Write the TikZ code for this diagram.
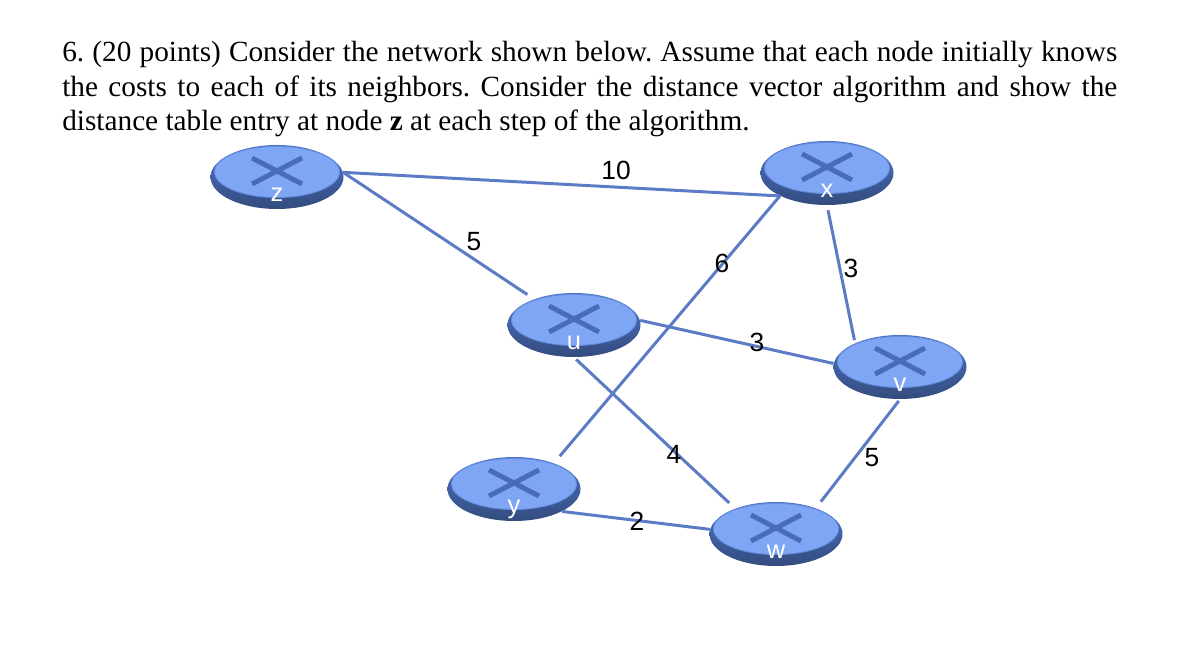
\documentclass[tikz,border=0pt]{standalone}
\usepackage{fontspec}
\setmainfont{Liberation Serif}
\newfontfamily\labelfont{Liberation Sans}
\usepackage{xcolor}
\definecolor{link_blue}{RGB}{91,124,196}
\definecolor{top_blue}{RGB}{127,166,245}
\definecolor{rim_blue}{RGB}{76,116,198}
\definecolor{dark_blue}{RGB}{52,76,126}
\definecolor{cross_blue}{RGB}{74,108,184}
\usetikzlibrary{shapes.geometric}
\tikzset{
  routerbody/.style={ellipse, minimum width=2.66cm, minimum height=1.28cm, inner sep=0pt, top color=rim_blue, bottom color=dark_blue},
  routertop/.style={ellipse, minimum width=2.50cm, minimum height=1.02cm, inner sep=0pt, fill=top_blue, draw=rim_blue!50!top_blue, line width=0.5pt},
  routercross/.style={draw=cross_blue, line width=2.8pt},
  routername/.style={anchor=base, text=white, font=\labelfont\fontsize{14.5}{15}\selectfont, inner sep=0pt},
  link/.style={draw=link_blue, line width=1.7pt},
  cost/.style={font=\labelfont\fontsize{15}{16}\selectfont, inner sep=0pt},
  question/.style={anchor=base west, inner sep=0pt, font=\fontsize{16.65}{19}\selectfont\frenchspacing},
}
\newcommand{\routernode}[4]{
  \node[routerbody] (#1) at (#2, #3) {};
  \node[routertop] (#1_top) at (#2, #3 + 0.1) {};
  \draw[routercross] (#2 - 0.5, #3 + 0.38) -- (#2 + 0.5, #3 - 0.14);
  \draw[routercross] (#2 - 0.5, #3 - 0.14) -- (#2 + 0.5, #3 + 0.38);
  \node[routername] (#1_name) at (#2, #3 - 0.49) {#4};
}
\begin{document}
\begin{tikzpicture}
\useasboundingbox (0, 0) rectangle (23.74, 13.26);

\node[question] (line_one) at (1.24, 12.02) {\makebox[21.1cm][s]{6. (20 points) Consider the network shown below. Assume that each node initially knows}};
\node[question] (line_two) at (1.24, 11.32) {\makebox[21.1cm][s]{the costs to each of its neighbors. Consider the distance vector algorithm and show the}};
\node[question] (line_three) at (1.24, 10.64) {distance table entry at node \textbf{z} at each step of the algorithm.};

\routernode{z}{5.54}{9.72}{z}
\routernode{x}{16.54}{9.80}{x}
\routernode{u}{11.48}{6.76}{u}
\routernode{v}{18.00}{5.92}{v}
\routernode{y}{10.28}{3.48}{y}
\routernode{w}{15.52}{2.58}{w}

\draw [link] (z.4) -- (x.206);
\draw [link, shorten >=0.16cm] (z.4) -- (u.147);
\draw [link] (u.4) -- (v.177);
\draw [link, shorten <=0.06cm, shorten >=0.16cm] (u.south) -- (w.148);
\draw [link, shorten <=0.18cm] (y.33) -- (x.206);
\draw [link] (y.335) -- (w.176);
\draw [link, shorten <=0.1cm, shorten >=0.06cm] (x.south) -- (v.152);
\draw [link, shorten <=0.04cm, shorten >=0.16cm] (v.south) -- (w.33);

\node[cost] (cost_zx) at (12.32, 9.86) {10};
\node[cost] (cost_zu) at (9.48, 8.42) {5};
\node[cost] (cost_xy) at (14.44, 8.00) {6};
\node[cost] (cost_xv) at (17.02, 7.90) {3};
\node[cost] (cost_uv) at (15.14, 6.42) {3};
\node[cost] (cost_uw) at (13.48, 4.18) {4};
\node[cost] (cost_vw) at (17.44, 4.10) {5};
\node[cost] (cost_yw) at (12.74, 2.84) {2};

\end{tikzpicture}
\end{document}
